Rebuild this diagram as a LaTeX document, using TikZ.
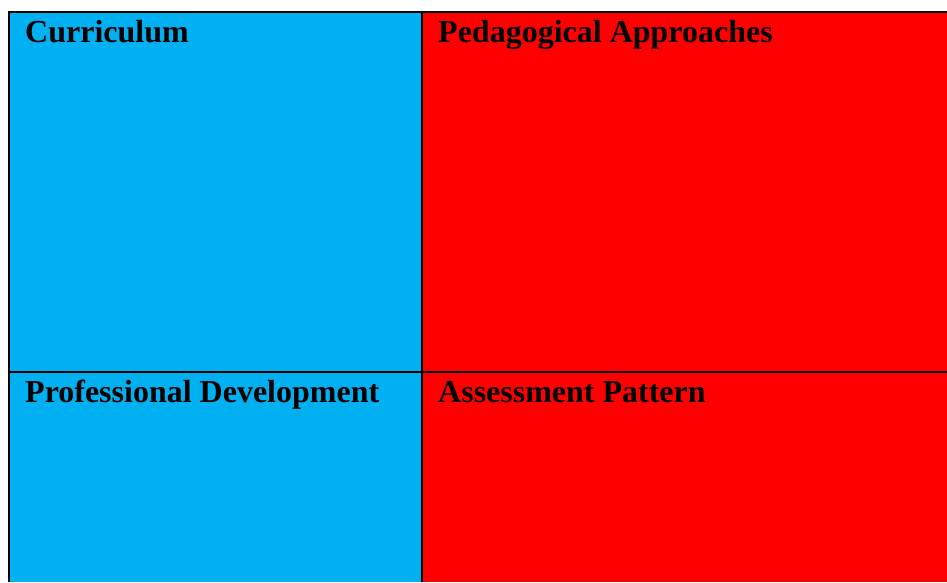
\documentclass[tikz,border=0pt]{standalone}
\usepackage{fontspec}
\setmainfont{Liberation Serif}
\definecolor{cellblue}{HTML}{00B0F0}
\definecolor{cellred}{HTML}{FF0000}
\begin{document}
\begin{tikzpicture}[x=1pt,y=-1pt,
  grid/.style={black, line width=2.4pt},
  heading/.style={anchor=base west, inner sep=0pt,
    font=\fontsize{32}{36}\selectfont\bfseries}]
  \useasboundingbox (0,0) rectangle (947,582);
  % cell backgrounds
  \fill[cellblue] (9,12) rectangle (422,582);
  \fill[cellred] (422,12) rectangle (947,582);
  % grid lines
  \draw[grid] (9,12) -- (947,12);
  \draw[grid] (9,372) -- (947,372);
  \draw[grid] (9,11) -- (9,582);
  \draw[grid] (422,11) -- (422,582);
  % cell headings
  \node[heading] (curr) at (25,42.5) {Curriculum};
  \node[heading] (peda) at (438,42.5) {Pedagogical Approaches};
  \node[heading] (prof) at (25,402) {Professional Development};
  \node[heading] (asse) at (438,402) {Assessment Pattern};
\end{tikzpicture}
\end{document}
